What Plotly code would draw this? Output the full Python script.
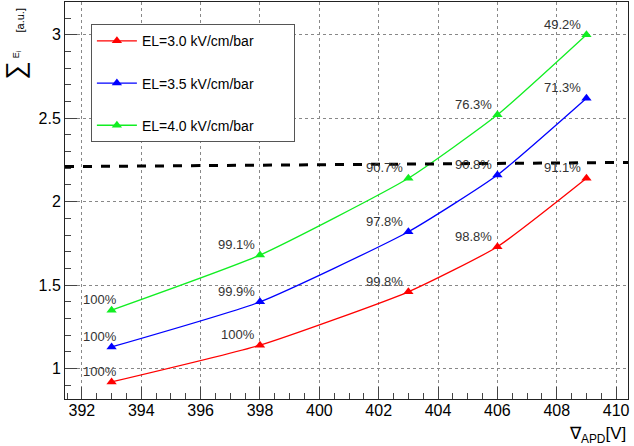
import plotly.graph_objects as go

# Bias voltage points (V)
voltage = [393, 398, 403, 406, 409]

# Summed energy for each EL field (a.u.)
sum_el30 = [0.92, 1.14, 1.46, 1.73, 2.14]
sum_el35 = [1.13, 1.40, 1.82, 2.16, 2.62]
sum_el40 = [1.35, 1.68, 2.14, 2.52, 3.00]

# Percent labels at each point
pct_el30 = ["100%", "100%", "99.8%", "98.8%", "91.1%"]
pct_el35 = ["100%", "99.9%", "97.8%", "90.8%", "71.3%"]
pct_el40 = ["100%", "99.1%", "90.7%", "76.3%", "49.2%"]

series_names = ["EL=3.0 kV/cm/bar", "EL=3.5 kV/cm/bar", "EL=4.0 kV/cm/bar"]

# Saturation threshold line
threshold_x = [391.43, 410.4]
threshold_y = [2.21, 2.235]

FONT = "Liberation Sans, Arial, Helvetica, sans-serif"
LEGEND_PAD = "\u00a0" * 9  # widen the legend box to the right

fig = go.Figure()

colors = ["#ff0000", "#0000ff", "#11ee22"]
for name, ys, labels, col in zip(series_names,
                                 [sum_el30, sum_el35, sum_el40],
                                 [pct_el30, pct_el35, pct_el40],
                                 colors):
    fig.add_trace(go.Scatter(
        x=voltage, y=ys, name=name + LEGEND_PAD, legendgroup=name,
        mode="lines+markers",
        line=dict(color=col, width=1.3, shape="spline", smoothing=0.5),
        marker=dict(symbol="triangle-up", size=9, color=col),
    ))
    # percentage label above-left of each point
    for xv, yv, lab in zip(voltage, ys, labels):
        fig.add_annotation(
            x=xv, y=yv, text=lab, showarrow=False,
            xanchor="right", yanchor="bottom",
            xshift=7 if xv == voltage[0] else -3, yshift=1,
            font=dict(family=FONT, size=13, color="#333333"),
        )

fig.add_trace(go.Scatter(
    x=threshold_x, y=threshold_y, mode="lines",
    line=dict(color="black", width=3, dash="dash"),
    showlegend=False, hoverinfo="skip",
))

axis_common = dict(
    showline=True, linecolor="#222222", linewidth=1, mirror=True,
    ticks="inside", ticklen=12, tickcolor="#444444",
    showgrid=True, gridcolor="#888888", griddash="dot", gridwidth=1,
    zeroline=False,
    tickfont=dict(family=FONT, size=16, color="black"),
)

fig.update_xaxes(
    range=[391.43, 410.4], tick0=392, dtick=2, ticklabelstandoff=-3,
    minor=dict(dtick=0.5, ticklen=6, ticks="inside", tickcolor="#444444", showgrid=False),
    **axis_common,
)
fig.update_yaxes(
    range=[0.818, 3.196], tick0=0, dtick=0.5,
    minor=dict(dtick=0.1, ticklen=6, ticks="inside", tickcolor="#444444", showgrid=False),
    **axis_common,
)

# Axis titles
fig.add_annotation(
    xref="paper", yref="paper", x=1.0, y=-0.09,
    xanchor="right", yanchor="middle", showarrow=False,
    text="\u2207<sub>APD</sub>[V]",
    font=dict(family=FONT, size=17, color="black"),
)
fig.add_annotation(
    xref="paper", yref="paper", x=-0.089, y=0.99,
    xanchor="center", yanchor="top", showarrow=False, textangle=-90,
    text=("<span style='font-size:26px'>\u2211</span>\u00a0"
          "<sup><span style='font-size:9px'>E<sub>i</sub></span></sup>"
          "\u00a0\u00a0\u00a0\u00a0\u00a0\u00a0[a.u.]"),
    font=dict(family=FONT, size=11, color="black"),
)

fig.update_layout(
    width=634, height=446,
    margin=dict(l=65, r=6, t=2, b=47),
    paper_bgcolor="white", plot_bgcolor="white",
    font=dict(family=FONT, color="black"),
    legend=dict(
        x=0.046, y=0.944, xanchor="left", yanchor="top",
        bgcolor="white", bordercolor="#555555", borderwidth=1,
        font=dict(family=FONT, size=14, color="black"),
        tracegroupgap=21, itemwidth=40,
    ),
)

fig.write_html("out.html")
